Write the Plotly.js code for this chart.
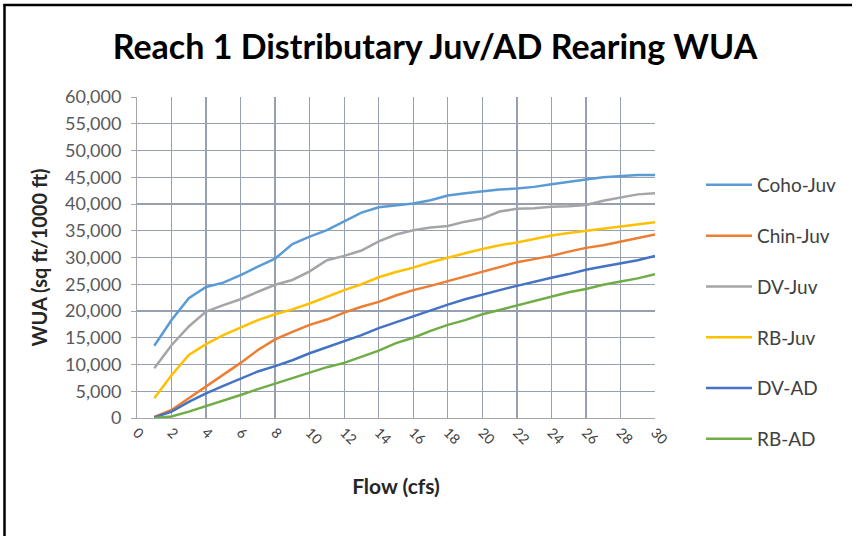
<!DOCTYPE html>
<html>
<head>
<meta charset="utf-8">
<script src="https://cdn.plot.ly/plotly-3.0.1.min.js"></script>
<style>html,body{margin:0;padding:0;background:#fff;}#chart{width:858px;height:536px;}</style>
</head>
<body>
<div id="chart"></div>
<script>
const flow = [1,2,3,4,5,6,7,8,9,10,11,12,13,14,15,16,17,18,19,20,21,22,23,24,25,26,27,28,29,30];
const cohoJuv = [13500,18300,22400,24500,25300,26700,28300,29800,32500,33900,35100,36700,38400,39400,39700,40100,40700,41600,42000,42400,42700,42900,43200,43700,44200,44600,45000,45200,45400,45400];
const chinJuv = [200,1500,3700,5900,8000,10300,12700,14700,16100,17400,18400,19700,20800,21700,22900,23900,24700,25600,26400,27300,28300,29100,29700,30300,31100,31800,32300,33000,33600,34300];
const dvJuv = [9300,13600,17100,19900,21100,22200,23600,24900,25800,27400,29500,30300,31300,33000,34300,35100,35600,35900,36700,37300,38600,39100,39200,39500,39600,39800,40600,41200,41800,42000];
const rbJuv = [3700,8000,11800,13800,15500,16900,18300,19400,20300,21400,22700,23900,25000,26300,27300,28100,29100,30000,30800,31600,32300,32800,33500,34100,34600,35000,35400,35800,36200,36600];
const dvAD = [100,1200,3000,4600,6000,7400,8700,9700,10800,12100,13200,14300,15500,16800,17900,19100,20200,21200,22200,23100,23900,24700,25500,26200,26900,27700,28300,28900,29500,30300];
const rbAD = [0,300,1200,2200,3200,4300,5400,6400,7400,8500,9500,10300,11500,12600,14000,15000,16300,17400,18300,19400,20200,21000,21900,22700,23500,24100,24900,25500,26100,26900];

const seriesNames = ["Coho-Juv","Chin-Juv","DV-Juv","RB-Juv","DV-AD","RB-AD"];
const seriesValues = [cohoJuv, chinJuv, dvJuv, rbJuv, dvAD, rbAD];
const seriesColors = ["#5b9bd5","#ed7d31","#a5a5a5","#ffc000","#4472c4","#70ad47"];

const titleText = "Reach 1 Distributary Juv/AD Rearing WUA";
const xTitle = "Flow (cfs)";
const yTitle = "WUA (sq ft/1000 ft)";

// plot box in pixels
const W = 858, H = 536;
const L = 137, R = 655, T = 97, B = 418;
const pw = R - L, ph = B - T;
const px2x = p => (p - L) / pw;
const py2y = p => (B - p) / ph;

const FONT = "Lato, 'Open Sans', sans-serif";

const traces = seriesNames.map((n, i) => ({
  type: "scatter", mode: "lines", name: n,
  x: flow, y: seriesValues[i],
  line: {color: seriesColors[i], width: 2.5},
  legend: i === 0 ? "legend" : "legend" + (i + 1),
  hoverinfo: "x+y+name"
}));

const layout = {
  width: W, height: H,
  margin: {l: L, r: W - R, t: T, b: H - B, pad: 0},
  paper_bgcolor: "#ffffff", plot_bgcolor: "#ffffff",
  font: {family: FONT, color: "#595959", size: 15},
  title: {
    text: titleText,
    font: {family: FONT, size: 34, color: "#000000", weight: "bold"},
    x: 435 / W, xref: "container", xanchor: "center",
    y: 1 - 47 / H, yref: "container", yanchor: "middle"
  },
  xaxis: {
    range: [0, 30], tick0: 0, dtick: 2, tickangle: 45,
    showgrid: true, gridcolor: "#96a0b2", gridwidth: 1.3,
    showline: true, linecolor: "#a6a6a6", linewidth: 1,
    ticks: "", zeroline: false,
    tickfont: {family: FONT, size: 14, color: "#404040"},
    title: {text: xTitle, font: {family: FONT, size: 21, color: "#262626", weight: "bold"}, standoff: 32}
  },
  yaxis: {
    range: [0, 60000], tick0: 0, dtick: 5000, tickformat: ",d",
    showgrid: true, gridcolor: "#96a0b2", gridwidth: 1.3,
    showline: true, linecolor: "#a6a6a6", linewidth: 1,
    ticks: "outside", ticklen: 5, tickcolor: "#a6a6a6",
    zeroline: false, ticklabelstandoff: 6,
    tickfont: {family: FONT, size: 18, color: "#595959"},
    title: {text: yTitle, font: {family: FONT, size: 20, color: "#262626", weight: "bold"}, standoff: 12}
  },
  shapes: [
    {type: "line", xref: "paper", yref: "paper", x0: px2x(4.5), x1: px2x(4.5), y0: py2y(4), y1: py2y(540), line: {color: "#000", width: 2.5}},
    {type: "line", xref: "paper", yref: "paper", x0: px2x(3.5), x1: px2x(852), y0: py2y(5), y1: py2y(5), line: {color: "#000", width: 2.5}}
  ],
  showlegend: true
};

const legTop = 185, legStep = 50.8;
seriesNames.forEach((n, i) => {
  const key = i === 0 ? "legend" : "legend" + (i + 1);
  layout[key] = {
    x: px2x(701), xanchor: "left",
    y: py2y(legTop + i * legStep), yanchor: "middle",
    bgcolor: "rgba(0,0,0,0)", borderwidth: 0,
    itemwidth: 46,
    font: {family: FONT, size: 19, color: "#404040"}
  };
});

Plotly.newPlot("chart", traces, layout, {displayModeBar: false, staticPlot: true});
</script>
</body>
</html>
